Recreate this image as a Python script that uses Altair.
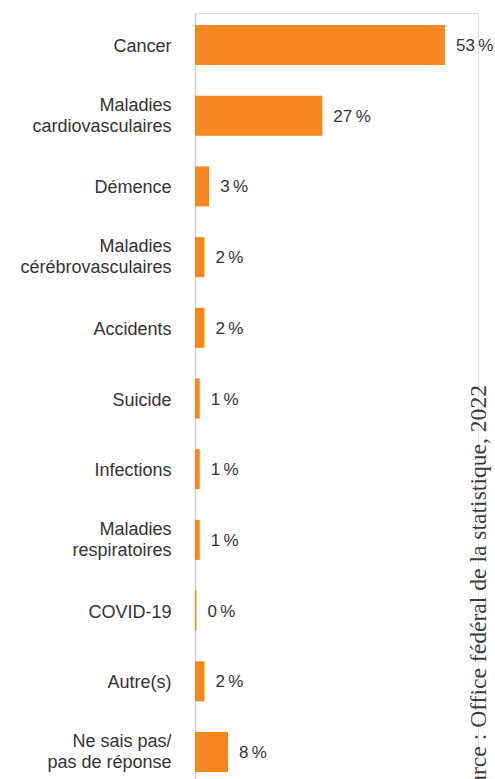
import altair as alt
import pandas as pd

categories = [
    "Cancer",
    "Maladies\ncardiovasculaires",
    "Démence",
    "Maladies\ncérébrovasculaires",
    "Accidents",
    "Suicide",
    "Infections",
    "Maladies\nrespiratoires",
    "COVID-19",
    "Autre(s)",
    "Ne sais pas/\npas de réponse",
]
# bar lengths (percent)
values = [53, 27, 3, 2, 2, 1, 1, 1, 0.3, 2, 7]
# printed labels
labels = ["53\u202f%", "27\u202f%", "3\u202f%", "2\u202f%", "2\u202f%", "1\u202f%",
          "1\u202f%", "1\u202f%", "0\u202f%", "2\u202f%", "8\u202f%"]
source = ["Source : Office fédéral de la statistique, 2022"]

df = pd.DataFrame({"cat": categories, "val": values, "lab": labels})

ORANGE = "#F58620"
TEXT = "#333333"

y_enc = alt.Y(
    "cat:N",
    sort=categories,
    scale=alt.Scale(paddingInner=0.434, paddingOuter=0.17),
    axis=alt.Axis(
        title=None,
        ticks=False,
        grid=False,
        domain=True,
        domainColor="#cfcfcf",
        domainWidth=1.5,
        labelAlign="right",
        labelBaseline="middle",
        labelPadding=24,
        labelFont="Liberation Sans",
        labelFontSize=18,
        labelColor=TEXT,
        labelLineHeight=21,
        labelLimit=200,
        labelOffset={
            "condition": {"test": "indexof(datum.value, '\\n') >= 0", "value": -10},
            "value": 2,
        },
        labelExpr="split(datum.label, '\\n')",
    ),
)
x_enc = alt.X("val:Q", scale=alt.Scale(domain=[0, 60], nice=False), axis=None)

bars = alt.Chart(df).mark_bar(color=ORANGE).encode(y=y_enc, x=x_enc)

vals = alt.Chart(df).mark_text(
    align="left", baseline="middle", dx=11, dy=1, font="Liberation Sans", fontSize=17, color=TEXT
).encode(y=alt.Y("cat:N", sort=categories), x="val:Q", text="lab:N")

src = alt.Chart(pd.DataFrame({"t": source})).mark_text(
    angle=270, align="right", baseline="alphabetic",
    font="Liberation Serif", fontSize=23.6, color="#3c3c3c"
).encode(text="t:N", x=alt.value(291), y=alt.value(372))

chart = alt.layer(bars, vals, src).properties(
    width=283,
    height=771,
    autosize=alt.AutoSizeParams(type="none"),
    padding={"left": 195, "top": 13, "right": 17, "bottom": 0},
).configure_view(stroke=None).configure(background="white")

chart.save("out.html", embed_options={"renderer": "svg", "actions": False})
